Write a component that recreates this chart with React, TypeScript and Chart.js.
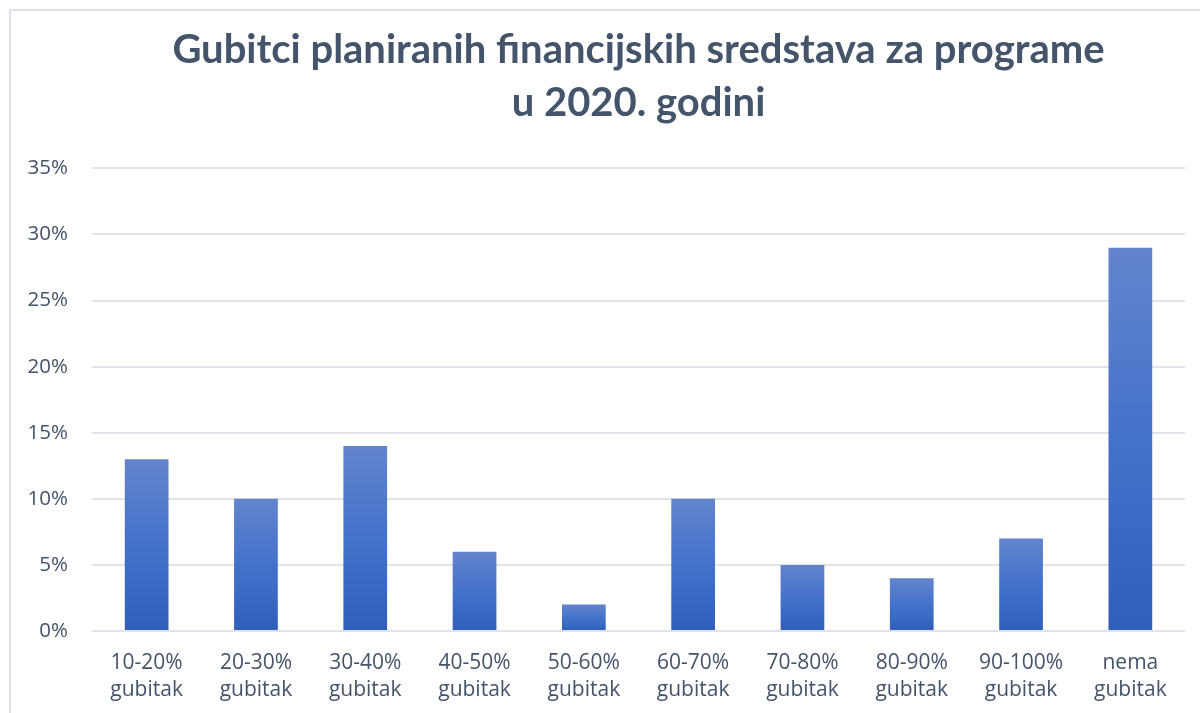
import React, { useEffect, useRef } from "react";
import { Chart, registerables } from "chart.js";

Chart.register(...registerables);

const categories: string[][] = [
  ["10-20%", "gubitak"],
  ["20-30%", "gubitak"],
  ["30-40%", "gubitak"],
  ["40-50%", "gubitak"],
  ["50-60%", "gubitak"],
  ["60-70%", "gubitak"],
  ["70-80%", "gubitak"],
  ["80-90%", "gubitak"],
  ["90-100%", "gubitak"],
  ["nema", "gubitak"],
];
const values: number[] = [13, 10, 14, 6, 2, 10, 5, 4, 7, 29];
const titleLines: string[] = [
  "Gubitci planiranih financijskih sredstava za programe",
  "u 2020. godini",
];
const yMax = 35;
const yStep = 5;

const TEXT = "#44546a";
const GRID = "#e0e3e9";

const borderPlugin = {
  id: "outerBorder",
  beforeDraw(chart: any) {
    const c = chart.ctx;
    c.save();
    c.fillStyle = "#ffffff";
    c.fillRect(0, 0, chart.width, chart.height);
    c.strokeStyle = "#dde1e8";
    c.lineWidth = 2;
    c.strokeRect(10, 10, chart.width + 50, chart.height + 50);
    c.restore();
  },
};

export default function App() {
  const ref = useRef<HTMLCanvasElement | null>(null);
  useEffect(() => {
    if (!ref.current) return;
    const chart = new Chart(ref.current, {
      type: "bar",
      data: {
        labels: categories,
        datasets: [
          {
            data: values,
            barPercentage: 0.4,
            categoryPercentage: 1,
            borderWidth: 0,
            backgroundColor: (ctx: any) => {
              const ch = ctx.chart;
              const ys = ch.scales?.y;
              if (!ys || !ch.chartArea || typeof ctx.raw !== "number") return "#4472c4";
              const top = ys.getPixelForValue(ctx.raw);
              const bot = ys.getPixelForValue(0);
              if (!isFinite(top) || !isFinite(bot) || top === bot) return "#4472c4";
              const g = ch.ctx.createLinearGradient(0, top, 0, bot);
              g.addColorStop(0, "#6384cd");
              g.addColorStop(0.5, "#4372cb");
              g.addColorStop(1, "#2f5fb9");
              return g;
            },
          },
        ],
      },
      options: {
        animation: false,
        responsive: false,
        maintainAspectRatio: false,
        layout: { padding: { left: 0, right: 15, top: 0, bottom: 0 } },
        plugins: {
          legend: { display: false },
          tooltip: { enabled: false },
          title: {
            display: true,
            fullSize: false,
            text: titleLines,
            color: TEXT,
            font: { family: "Lato", size: 40, weight: "bold", lineHeight: 1.33 },
            padding: { top: 23, bottom: 39 },
          },
        },
        scales: {
          x: {
            grid: { display: false, drawTicks: false },
            border: { display: false },
            afterFit: (s: any) => {
              s.height = 82;
            },
            ticks: {
              color: TEXT,
              font: { family: "Open Sans", size: 21, lineHeight: 1.3 },
              padding: 18,
              maxRotation: 0,
              autoSkip: false,
            },
          },
          y: {
            min: 0,
            max: yMax,
            grid: { color: GRID, lineWidth: 2, drawTicks: false },
            border: { display: false },
            afterFit: (s: any) => {
              s.width = 92;
            },
            ticks: {
              stepSize: yStep,
              color: TEXT,
              font: { family: "Open Sans", size: 20.5 },
              padding: 24,
              callback: (v: any) => `${v}%`,
            },
          },
        },
      },
      plugins: [borderPlugin],
    });
    return () => chart.destroy();
  }, []);
  return (
    <div style={{ position: "fixed", left: 0, top: 0, width: 1200, height: 713, background: "#fff" }}>
      <canvas ref={ref} width={1200} height={713} style={{ display: "block" }} />
    </div>
  );
}
